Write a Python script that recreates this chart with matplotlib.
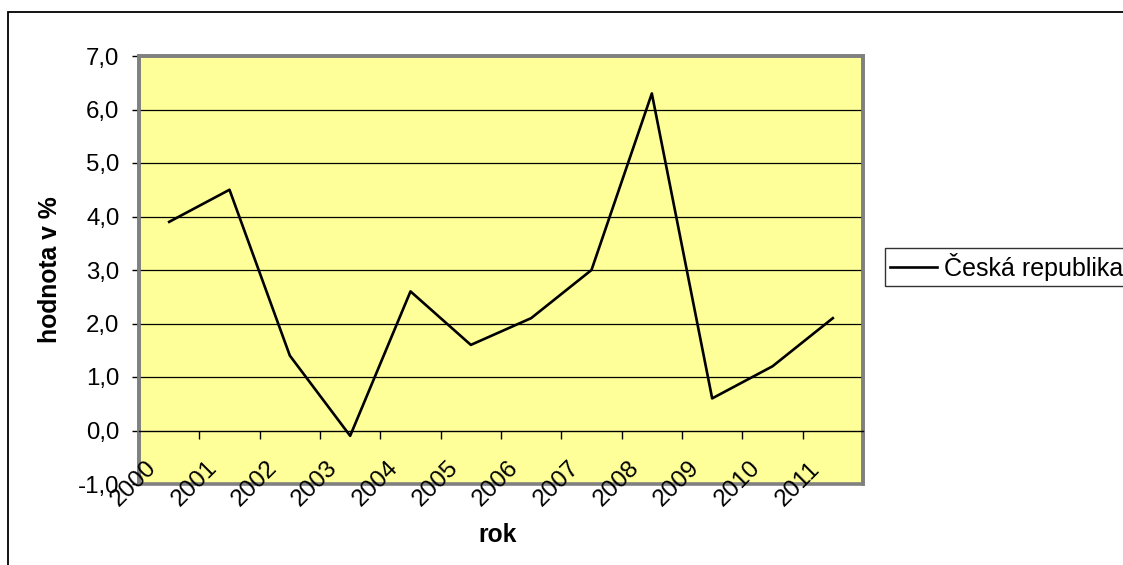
import matplotlib.pyplot as plt
import matplotlib.patches as patches
import matplotlib.transforms as mtransforms
import numpy as np

plt.rcParams['font.family'] = ['Liberation Sans', 'DejaVu Sans']

years = ['2000', '2001', '2002', '2003', '2004', '2005',
         '2006', '2007', '2008', '2009', '2010', '2011']
cz = [3.9, 4.5, 1.4, -0.1, 2.6, 1.6, 2.1, 3.0, 6.3, 0.6, 1.2, 2.1]
yticks = [-1, 0, 1, 2, 3, 4, 5, 6, 7]

fig = plt.figure(figsize=(11.23, 5.65), dpi=100)
ax = fig.add_axes([139/1123, 1 - 484/565, 724/1123, 428/565])
ax.set_facecolor('#FFFF99')

x = np.arange(len(years)) + 0.5
ax.plot(x, cz, color='black', lw=1.9, label='Česká republika', zorder=5)

ax.set_xlim(0, len(years))
ax.set_ylim(-1, 7)

# horizontal grid
for v in yticks[2:-1]:
    ax.axhline(v, color='black', lw=0.9, zorder=2)

# plot area frame in grey, category axis crossing at zero
for s in ['left', 'right', 'top']:
    ax.spines[s].set_color('#808080')
    ax.spines[s].set_linewidth(2.6)
ax.spines['bottom'].set_position(('data', 0))
ax.spines['bottom'].set_color('black')
ax.spines['bottom'].set_linewidth(1.0)
ax.add_patch(patches.Rectangle((0, 0), 1, 1, transform=ax.transAxes, fill=False,
                               edgecolor='#808080', lw=2.6, zorder=1, clip_on=False))

ax.set_yticks(yticks)
ax.set_yticklabels([('%.1f' % v).replace('.', ',') for v in yticks], fontsize=17.3)
ax.tick_params(axis='y', length=5, width=1, color='black', pad=9)

ax.set_xticks(np.arange(len(years) + 1))
ax.set_xticklabels([])
ax.tick_params(axis='x', length=5.5, width=1, color='black', direction='out')

# rotated year labels along the bottom edge
off = mtransforms.offset_copy(ax.transData, fig=fig, x=-5, y=0, units='dots')
for i, yr in enumerate(years):
    ax.text(i, -1, yr, rotation=45, ha='center', va='center', fontsize=17.5,
            transform=off, zorder=6, clip_on=False)

ax.set_xlabel('rok', fontsize=17.8, fontweight='bold')
ax.xaxis.set_label_coords(0.495, -0.092)
ax.set_ylabel('hodnota v %', fontsize=17.8, fontweight='bold')
ax.yaxis.set_label_coords(-0.106, 0.5)

leg = fig.legend(loc='center left', bbox_to_anchor=(885/1123, 1 - 267/565),
                 fontsize=18, frameon=True, fancybox=False, borderpad=0.2,
                 handlelength=1.88, handletextpad=0.28, borderaxespad=0)
leg.get_frame().set_edgecolor('black')
leg.get_frame().set_linewidth(1.0)

# outer chart border
fig.add_artist(patches.Rectangle((8/1123, -0.2), 2, 1.2 - 12/565,
                                 transform=fig.transFigure, fill=False,
                                 edgecolor='black', lw=1.3))

fig.savefig('out.png', dpi=100)
